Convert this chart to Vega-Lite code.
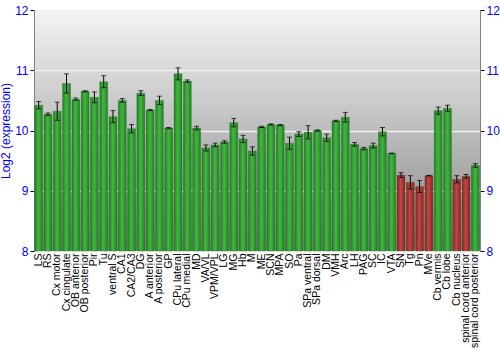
{
  "$schema": "https://vega.github.io/schema/vega-lite/v6.json",
  "autosize": "none",
  "width": 446,
  "height": 241,
  "padding": {"left": 34, "top": 10, "right": 20, "bottom": 99},
  "background": "white",
  "config": {
    "font": "Liberation Sans",
    "view": {
      "stroke": "#808080",
      "strokeWidth": 1,
      "fill": {"gradient": "linear", "x1": 0, "y1": 0, "x2": 0, "y2": 1,
        "stops": [{"offset": 0, "color": "#f4f4f4"}, {"offset": 1, "color": "#858585"}]}
    }
  },
  "data": {"values": [
    {"region": "LS", "value": 10.42, "err": 0.06, "group": "g"},
    {"region": "RS", "value": 10.27, "err": 0.02, "group": "g"},
    {"region": "Cx motor", "value": 10.32, "err": 0.15, "group": "g"},
    {"region": "Cx cingulate", "value": 10.78, "err": 0.16, "group": "g"},
    {"region": "OB anterior", "value": 10.52, "err": 0.02, "group": "g"},
    {"region": "OB posterior", "value": 10.65, "err": 0.01, "group": "g"},
    {"region": "Pir", "value": 10.55, "err": 0.09, "group": "g"},
    {"region": "Tu", "value": 10.81, "err": 0.1, "group": "g"},
    {"region": "ventral S", "value": 10.23, "err": 0.1, "group": "g"},
    {"region": "CA1", "value": 10.5, "err": 0.03, "group": "g"},
    {"region": "CA2/CA3", "value": 10.03, "err": 0.07, "group": "g"},
    {"region": "DG", "value": 10.62, "err": 0.04, "group": "g"},
    {"region": "A anterior", "value": 10.34, "err": 0.01, "group": "g"},
    {"region": "A posterior", "value": 10.5, "err": 0.07, "group": "g"},
    {"region": "GP", "value": 10.04, "err": 0.01, "group": "g"},
    {"region": "CPu lateral", "value": 10.94, "err": 0.1, "group": "g"},
    {"region": "CPu medial", "value": 10.82, "err": 0.02, "group": "g"},
    {"region": "MD", "value": 10.04, "err": 0.03, "group": "g"},
    {"region": "VA/VL", "value": 9.71, "err": 0.05, "group": "g"},
    {"region": "VPM/VPL", "value": 9.76, "err": 0.03, "group": "g"},
    {"region": "LG", "value": 9.81, "err": 0.02, "group": "g"},
    {"region": "MG", "value": 10.13, "err": 0.07, "group": "g"},
    {"region": "Hb", "value": 9.86, "err": 0.06, "group": "g"},
    {"region": "M", "value": 9.66, "err": 0.07, "group": "g"},
    {"region": "ME", "value": 10.06, "err": 0.01, "group": "g"},
    {"region": "SCN", "value": 10.1, "err": 0.01, "group": "g"},
    {"region": "MPA", "value": 10.09, "err": 0.01, "group": "g"},
    {"region": "SO", "value": 9.79, "err": 0.1, "group": "g"},
    {"region": "Pa", "value": 9.94, "err": 0.04, "group": "g"},
    {"region": "SPa ventral", "value": 9.97, "err": 0.11, "group": "g"},
    {"region": "SPa dorsal", "value": 10.0, "err": 0.01, "group": "g"},
    {"region": "DM", "value": 9.88, "err": 0.06, "group": "g"},
    {"region": "VMH", "value": 10.16, "err": 0.01, "group": "g"},
    {"region": "Arc", "value": 10.22, "err": 0.08, "group": "g"},
    {"region": "LH", "value": 9.77, "err": 0.03, "group": "g"},
    {"region": "PAG", "value": 9.7, "err": 0.02, "group": "g"},
    {"region": "SC", "value": 9.75, "err": 0.04, "group": "g"},
    {"region": "IC", "value": 9.98, "err": 0.07, "group": "g"},
    {"region": "VTA", "value": 9.62, "err": 0.005, "group": "g"},
    {"region": "SN", "value": 9.26, "err": 0.04, "group": "r"},
    {"region": "Tg", "value": 9.14, "err": 0.11, "group": "r"},
    {"region": "Pn", "value": 9.07, "err": 0.1, "group": "r"},
    {"region": "MVe", "value": 9.25, "err": 0.005, "group": "r"},
    {"region": "Cb vermis", "value": 10.33, "err": 0.06, "group": "g"},
    {"region": "Cb lobe", "value": 10.37, "err": 0.05, "group": "g"},
    {"region": "Cb nucleus", "value": 9.19, "err": 0.06, "group": "r"},
    {"region": "spinal cord anterior", "value": 9.24, "err": 0.03, "group": "r"},
    {"region": "spinal cord posterior", "value": 9.42, "err": 0.03, "group": "g"}
  ]},
  "encoding": {
    "x": {"field": "region", "type": "nominal", "sort": null,
      "scale": {"paddingInner": 0.14, "paddingOuter": 0.07},
      "axis": {"title": null, "labelAngle": -90, "labelFontSize": 10.5, "labelColor": "black",
        "ticks": false, "domain": false, "labelPadding": 2, "labelBaseline": "middle", "labelAlign": "right"}}
  },
  "layer": [
    {
      "mark": {"type": "bar", "stroke": "#1d6b1d", "strokeWidth": 0.3},
      "encoding": {
        "y": {"field": "value", "type": "quantitative", "scale": {"domain": [8, 12], "zero": false, "nice": false},
          "axis": {"title": "Log2 (expression)", "titleColor": "#0000ff", "titleFontSize": 12, "titleFontWeight": "normal",
            "labelColor": "#0000ff", "labelFontSize": 12, "values": [8, 9, 10, 11, 12], "grid": true,
            "gridColor": "#f0f0f0", "gridWidth": 1.5, "domainColor": "#808080", "tickColor": "black", "tickSize": 4, "labelPadding": 2, "titlePadding": 2}},
        "y2": {"datum": 8},
        "fill": {
          "condition": {"test": "datum.group === 'r'", "value": {"gradient": "linear", "x1": 0, "y1": 0, "x2": 1, "y2": 0,
            "stops": [{"offset": 0, "color": "#8a2020"}, {"offset": 0.45, "color": "#c04848"}, {"offset": 0.6, "color": "#b43c3c"}, {"offset": 1, "color": "#8a2020"}]}},
          "value": {"gradient": "linear", "x1": 0, "y1": 0, "x2": 1, "y2": 0,
            "stops": [{"offset": 0, "color": "#1f7f1f"}, {"offset": 0.45, "color": "#44b444"}, {"offset": 0.6, "color": "#3caa3c"}, {"offset": 1, "color": "#1f7f1f"}]}
        }
      }
    },
    {
      "mark": {"type": "errorbar", "ticks": {"size": 5, "color": "black"}, "rule": {"color": "black", "strokeWidth": 1}},
      "encoding": {
        "y": {"field": "value", "type": "quantitative", "axis": null},
        "yError": {"field": "err"}
      }
    },
    {
      "mark": {"type": "point", "opacity": 0},
      "encoding": {
        "y": {"field": "value", "type": "quantitative",
          "axis": {"orient": "right", "title": null, "labelColor": "#0000ff", "labelFontSize": 12, "values": [8, 9, 10, 11, 12],
            "grid": false, "domainColor": "#808080", "tickColor": "black", "tickSize": 4, "labelPadding": 2}}
      }
    }
  ],
  "resolve": {"axis": {"y": "independent"}}
}
